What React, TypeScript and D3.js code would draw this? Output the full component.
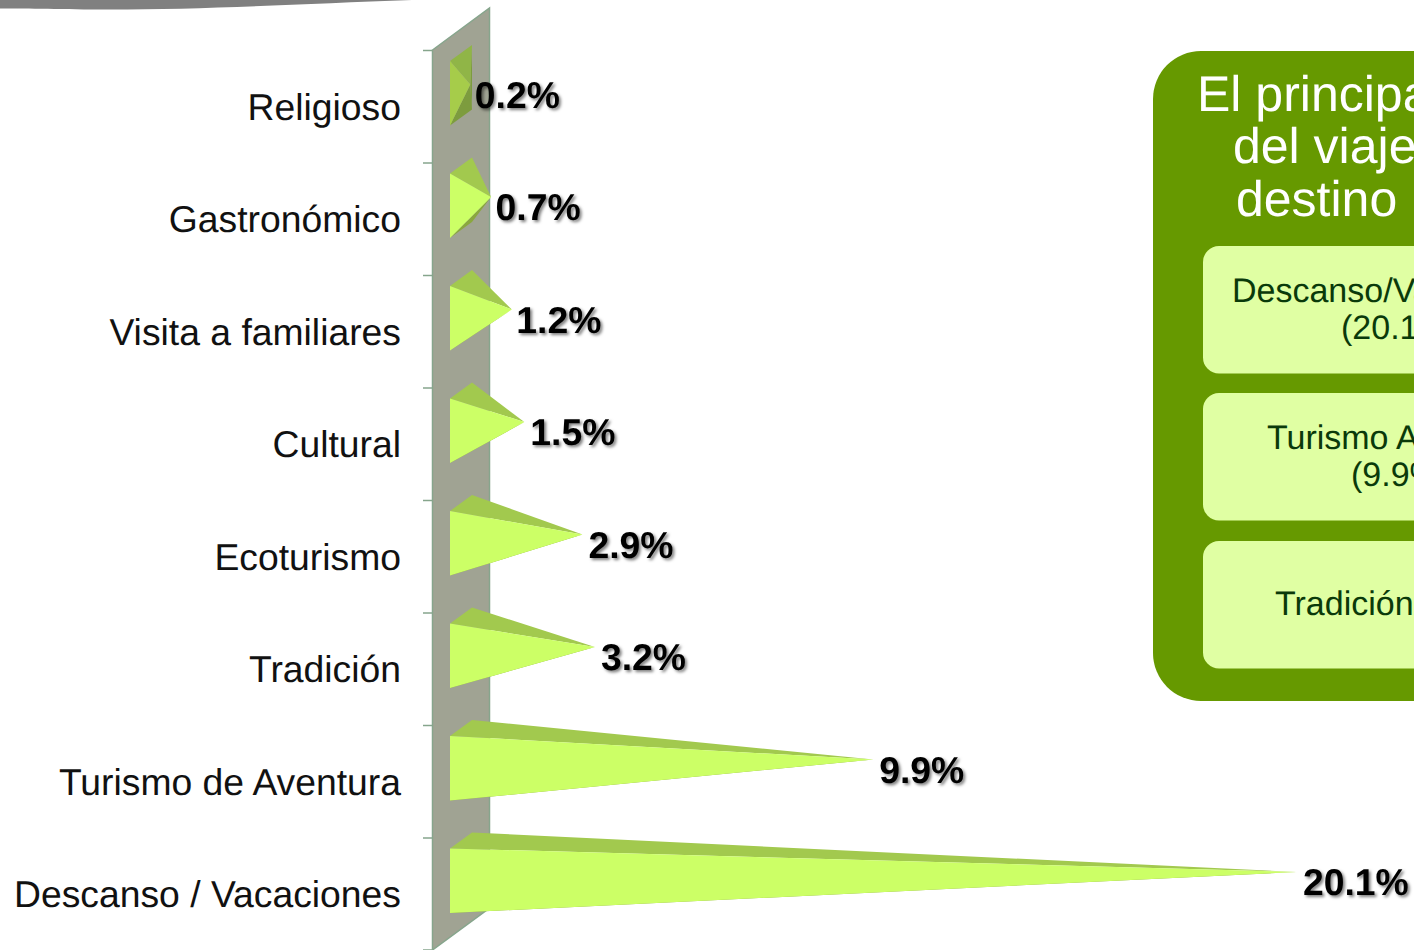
import React from "react";
import * as d3 from "d3";

const categories = [
  "Religioso",
  "Gastronómico",
  "Visita a familiares",
  "Cultural",
  "Ecoturismo",
  "Tradición",
  "Turismo de Aventura",
  "Descanso / Vacaciones",
];
const values = [0.2, 0.7, 1.2, 1.5, 2.9, 3.2, 9.9, 20.1];
const valueLabels = ["0.2%", "0.7%", "1.2%", "1.5%", "2.9%", "3.2%", "9.9%", "20.1%"];

const titleLines = ["El principal", "del viaje", "destino"];
const boxLines = [
  ["Descanso/Vacaciones", "(20.1%)"],
  ["Turismo Aventura", "(9.9%)"],
  ["Tradición"],
];

const WIDTH = 1414;
const HEIGHT = 950;
const FONT = "'Liberation Sans', Arial, sans-serif";

const y = d3.scaleBand<string>().domain(categories).range([50.5, 950.5]);
const x = d3.scaleLinear().domain([0, 20.1]).range([462, 1297]);
const path = d3.line();

const frontX = 450;
const backX = 472;

const normalFaces = { top: "#a2c94e", front: "#ccff66", under: "#8aa83e", back: "#7d9c3e" };
const hiddenFaces = { top: "#90b547", front: "#a6cc4a", under: "#7d9c3e", back: "#7d9c3e" };

function Bar({ name, value }: { name: string; value: number }) {
  const t = y(name) as number;
  const apex: [number, number] = [x(value), t + 34];
  const ft: [number, number] = [frontX, t + 10.5];
  const fb: [number, number] = [frontX, t + 75];
  const bt: [number, number] = [backX, t - 5.5];
  const bb: [number, number] = [backX, t + 59];
  const faces = apex[0] <= backX ? hiddenFaces : normalFaces;
  return (
    <g>
      {apex[0] <= backX && <path d={path([bt, bb, apex]) + "Z"} fill={faces.back} />}
      <path d={path([fb, bb, apex]) + "Z"} fill={faces.under} />
      <path d={path([ft, bt, apex]) + "Z"} fill={faces.top} />
      <path d={path([ft, fb, apex]) + "Z"} fill={faces.front} />
    </g>
  );
}

export default function App() {
  const ticks = [...categories.map((c) => y(c) as number), 950];
  return (
    <svg
      width={WIDTH}
      height={HEIGHT}
      viewBox={`0 0 ${WIDTH} ${HEIGHT}`}
      textRendering="geometricPrecision"
      style={{ position: "absolute", left: 0, top: 0, background: "#fff", fontFamily: FONT }}
    >
      <defs>
        <filter id="labelShadow" x="-10%" y="-20%" width="125%" height="150%">
          <feDropShadow dx="2" dy="2" stdDeviation="1.5" floodColor="#000" floodOpacity="0.5" />
        </filter>
      </defs>

      {/* grey swoosh cut off by the top of the page */}
      <path d="M0,0 L412,0 C300,4 200,9.5 110,9.5 C60,9.5 30,8.5 0,8.5 Z" fill="#808080" />

      {/* back wall and ticks */}
      <path d="M432.5,50 L489.5,8 L489.5,908 L432.5,950 Z" fill="#a0a393" stroke="#86a58c" strokeWidth={1.5} />
      {ticks.map((t) => (
        <line key={t} x1={423} x2={432} y1={t} y2={t} stroke="#86a58c" strokeWidth={1.5} />
      ))}

      {categories.map((c, i) => (
        <Bar key={c} name={c} value={values[i]} />
      ))}

      {categories.map((c) => (
        <text key={c} x={401} y={(y(c) as number) + 69} textAnchor="end" fontSize={37.3} fill="#111">
          {c}
        </text>
      ))}

      {categories.map((c, i) => (
        <text
          key={c}
          x={x(values[i]) + (values[i] < 1.4 ? 4.5 : 6)}
          y={(y(c) as number) + 57}
          fontSize={37.3}
          fontWeight="bold"
          fill="#000"
          filter="url(#labelShadow)"
        >
          {valueLabels[i]}
        </text>
      ))}

      {/* summary panel, runs off the right edge */}
      <rect x={1153} y={51} width={480} height={650} rx={48} fill="#669900" />
      {titleLines.map((line, i) => (
        <text key={line} x={[1197, 1233, 1236][i]} y={[111, 163, 216][i]} fontSize={50} fill="#fff">
          {line}
        </text>
      ))}
      {[246, 393, 541].map((top) => (
        <rect key={top} x={1203} y={top} width={400} height={127.5} rx={16} fill="#e0ffa3" />
      ))}
      <g fontSize={34} fill="#0a3a0a">
        <text x={1232} y={302}>{boxLines[0][0]}</text>
        <text x={1341} y={339}>{boxLines[0][1]}</text>
        <text x={1267} y={449}>{boxLines[1][0]}</text>
        <text x={1351} y={486}>{boxLines[1][1]}</text>
        <text x={1275} y={615}>{boxLines[2][0]}</text>
      </g>
    </svg>
  );
}
